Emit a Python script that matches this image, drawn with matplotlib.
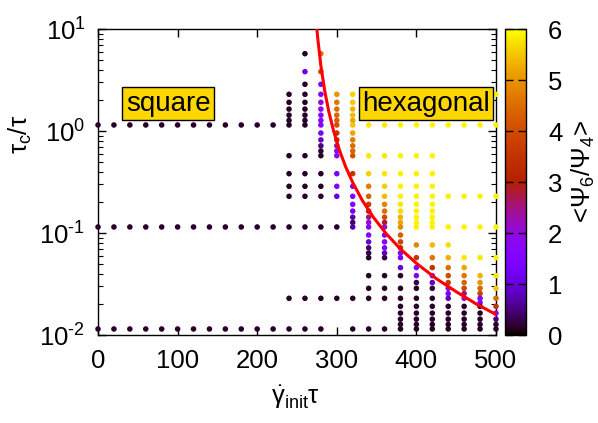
import matplotlib.pyplot as plt
import numpy as np
from matplotlib.ticker import FixedLocator, FixedFormatter

plt.rcParams['font.family'] = ['Liberation Sans', 'DejaVu Sans']
plt.rcParams['mathtext.fontset'] = 'custom'
plt.rcParams['mathtext.rm'] = 'Liberation Sans'
plt.rcParams['mathtext.it'] = 'Liberation Sans'
plt.rcParams['mathtext.bf'] = 'Liberation Sans:bold'

# shear rates 0..220: only three tau_c values, all square
gam_left = [0, 20, 40, 60, 80, 100, 120, 140, 160, 180, 200, 220]
tau_left = [1.146, 0.1146, 0.01146]
psi_left = [0.15, 0.15, 0.15]

# columns with more tau_c values
tau_240 = [2.29, 1.91, 1.64, 1.43, 1.27, 1.146, 0.573, 0.382, 0.287, 0.229, 0.1146, 0.0229, 0.01146]
psi_240 = [0.15] * 13

tau_260 = [5.73, 3.82, 2.87, 2.29, 1.91, 1.64, 1.43, 1.27, 1.146, 0.573, 0.382, 0.287, 0.229,
           0.1146, 0.0229, 0.01146]
psi_260 = [0.15, 1.1, 0.15, 0.15, 0.15, 0.15, 0.15, 0.15, 0.15, 0.15, 0.15, 0.15, 0.15,
           0.15, 0.15, 0.15]

tau_280 = [5.73, 3.82, 2.87, 2.29, 1.91, 1.64, 1.43, 1.27, 1.146, 0.955, 0.819, 0.716, 0.637,
           0.573, 0.382, 0.287, 0.229, 0.1146, 0.0229, 0.01146]
psi_280 = [4.6, 3.9, 1.6, 1.6, 1.9, 1.8, 1.7, 1.7, 1.6, 1.3, 0.9, 0.5, 0.2,
           0.15, 0.15, 0.15, 0.15, 0.15, 0.15, 0.15]

tau_300 = [2.29, 1.91, 1.64, 1.43, 1.27, 1.146, 0.955, 0.819, 0.716, 0.637, 0.573, 0.382,
           0.287, 0.229, 0.1146, 0.0229]
psi_300 = [5.0, 4.6, 4.5, 4.4, 4.3, 4.1, 3.5, 3.2, 2.5, 1.9, 1.7, 1.3,
           1.5, 1.0, 0.15, 0.15]

tau_320 = [2.29, 1.91, 1.64, 1.43, 1.27, 1.146, 0.955, 0.819, 0.716, 0.637, 0.573, 0.382,
           0.287, 0.229, 0.191, 0.164, 0.143, 0.127, 0.1146, 0.0229, 0.01146]
psi_320 = [5.6, 5.5, 5.3, 5.4, 5.2, 5.5, 5.2, 4.7, 4.5, 4.4, 4.1, 3.6,
           1.6, 1.5, 1.5, 1.3, 0.7, 0.4, 0.7, 0.15, 0.15]

tau_340 = [1.146, 0.573, 0.382, 0.287, 0.229, 0.191, 0.164, 0.143, 0.127, 0.1146, 0.0955,
           0.0819, 0.0716, 0.0637, 0.0573, 0.0382, 0.0287, 0.0229, 0.01146]
psi_340 = [5.8, 5.8, 5.6, 4.7, 4.3, 3.7, 3.0, 2.5, 2.0, 1.7, 1.5,
           1.0, 0.4, 0.3, 0.15, 0.15, 0.15, 0.15, 0.15]

tau_360 = [1.146, 0.573, 0.382, 0.287, 0.229, 0.191, 0.164, 0.143, 0.127, 0.1146, 0.0955,
           0.0819, 0.0716, 0.0637, 0.0573, 0.0382, 0.0287, 0.0229, 0.01146]
psi_360 = [5.8, 5.8, 5.8, 5.6, 5.4, 4.8, 4.5, 4.0, 2.8, 2.2, 1.6,
           1.5, 1.4, 0.8, 0.3, 0.15, 0.15, 0.15, 0.15]

tau_380 = [1.146, 0.573, 0.382, 0.287, 0.229, 0.191, 0.164, 0.143, 0.127, 0.1146, 0.0955,
           0.0819, 0.0716, 0.0637, 0.0573, 0.0458, 0.0382, 0.0287, 0.0229, 0.0191, 0.0164,
           0.0143, 0.0127, 0.01146]
psi_380 = [5.9, 5.9, 5.9, 5.9, 5.9, 5.8, 5.7, 5.3, 5.2, 4.9, 4.3,
           3.8, 3.4, 1.7, 1.5, 1.0, 0.15, 0.15, 0.15, 0.15, 0.15,
           0.15, 0.15, 0.15]

tau_400 = [1.146, 0.573, 0.382, 0.287, 0.229, 0.191, 0.164, 0.143, 0.127, 0.1146, 0.0764,
           0.0573, 0.0458, 0.0382, 0.0327, 0.0287, 0.0229, 0.0191, 0.0164, 0.0143, 0.0127,
           0.01146]
psi_400 = [5.9, 5.9, 5.9, 5.9, 5.9, 5.9, 5.9, 5.9, 5.9, 5.9, 4.8,
           3.6, 1.6, 1.5, 0.3, 0.15, 0.15, 0.15, 0.15, 0.15, 0.15,
           0.15]

tau_420 = [1.146, 0.573, 0.382, 0.287, 0.229, 0.191, 0.164, 0.143, 0.127, 0.1146, 0.0764,
           0.0573, 0.0458, 0.0382, 0.0327, 0.0287, 0.0229, 0.0191, 0.0164, 0.0143, 0.0127,
           0.01146]
psi_420 = [5.9, 5.9, 5.9, 5.9, 5.9, 5.9, 5.9, 5.9, 5.9, 5.9, 5.4,
           4.6, 3.5, 1.4, 0.8, 0.3, 0.15, 0.15, 0.15, 0.15, 0.15,
           0.15]

tau_440 = [1.146, 0.229, 0.1146, 0.0764, 0.0573, 0.0458, 0.0382, 0.0327, 0.0287, 0.0255,
           0.0229, 0.0191, 0.0164, 0.0143, 0.0127, 0.01146]
psi_440 = [5.9, 5.9, 5.9, 5.7, 5.3, 4.5, 4.0, 3.7, 2.2, 1.5,
           0.8, 0.15, 0.15, 0.15, 0.15, 0.15]

tau_460 = [1.146, 0.229, 0.1146, 0.0573, 0.0458, 0.0382, 0.0327, 0.0287, 0.0255, 0.0229,
           0.0191, 0.0164, 0.0143, 0.0127, 0.01146]
psi_460 = [5.9, 5.9, 5.9, 5.8, 5.2, 4.6, 4.4, 3.9, 2.5, 2.2,
           0.15, 0.15, 0.15, 0.15, 0.15]

tau_480 = [1.146, 0.229, 0.1146, 0.0573, 0.0382, 0.0327, 0.0287, 0.0255, 0.0229, 0.0208,
           0.0191, 0.0164, 0.0143, 0.0127, 0.01146]
psi_480 = [5.9, 5.9, 5.9, 5.8, 5.3, 5.0, 4.4, 3.8, 1.6, 1.5,
           0.15, 0.15, 0.15, 0.15, 0.15]

tau_500 = [2.29, 1.146, 0.229, 0.1146, 0.0573, 0.0382, 0.0287, 0.0229, 0.0191, 0.0164,
           0.0143, 0.0127, 0.01146]
psi_500 = [5.9, 5.9, 5.9, 5.9, 5.9, 5.8, 5.5, 4.5, 3.5, 1.8,
           0.5, 0.15, 0.15]

# red boundary line
curve_gam = [274, 276, 280, 285, 290, 296, 303, 311, 320, 332, 346, 362, 380, 400, 425, 450, 475, 500]
curve_tau = [12.3, 8.19, 4.36, 2.43, 1.545, 1.0, 0.660, 0.448, 0.313, 0.209, 0.1426, 0.0986,
             0.0697, 0.0505, 0.0357, 0.0266, 0.0202, 0.0159]

ytick_vals = [0.01, 0.1, 1, 10]
ytick_labels = ['10$^{\u2010 2}$', '10$^{\u2010 1}$', '10$^{0}$', '10$^{1}$']

columns = [(240, tau_240, psi_240), (260, tau_260, psi_260), (280, tau_280, psi_280),
           (300, tau_300, psi_300), (320, tau_320, psi_320), (340, tau_340, psi_340),
           (360, tau_360, psi_360), (380, tau_380, psi_380), (400, tau_400, psi_400),
           (420, tau_420, psi_420), (440, tau_440, psi_440), (460, tau_460, psi_460),
           (480, tau_480, psi_480), (500, tau_500, psi_500)]

gam, tau, psi = [], [], []
for g in gam_left:
    gam += [g] * len(tau_left)
    tau += tau_left
    psi += psi_left
for g, t, p in columns:
    gam += [g] * len(t)
    tau += t
    psi += p

fig = plt.figure(figsize=(5.98, 4.23), dpi=100)
ax = fig.add_axes([0.1639, 0.2080, 0.6655, 0.7234])
cax = fig.add_axes([0.8445, 0.2080, 0.0351, 0.7234])

sc = ax.scatter(gam, tau, c=psi, cmap='gnuplot', vmin=0, vmax=6, s=16,
                linewidths=0, clip_on=False, zorder=3)
ax.plot(curve_gam, curve_tau, color='#ff0000', lw=2.2, zorder=4)

fs = 18.5
ax.set_yscale('log')
ax.set_xlim(0, 500)
ax.set_ylim(0.01, 10)
ax.set_xticks([0, 100, 200, 300, 400, 500])
ax.yaxis.set_major_locator(FixedLocator(ytick_vals))
ax.yaxis.set_major_formatter(FixedFormatter(ytick_labels))
ax.tick_params(which='both', direction='in', top=True, right=True, labelsize=fs)
ax.tick_params(which='major', length=6, width=1)
ax.tick_params(which='minor', length=3.5, width=0.8)
ax.tick_params(axis='x', pad=10)
ax.tick_params(axis='y', pad=9)
for s in ax.spines.values():
    s.set_linewidth(1)

box = dict(boxstyle='square,pad=0.12', fc='#ffd700', ec='black', lw=1)
ax.text(88, 1.86, 'square', ha='center', va='center', fontsize=20, bbox=box, zorder=5)
ax.text(412, 1.86, 'hexagonal', ha='center', va='center', fontsize=20, bbox=box, zorder=5)

cb = fig.colorbar(sc, cax=cax)
cb.set_ticks([0, 1, 2, 3, 4, 5, 6])
cb.outline.set_linewidth(1)
cax.tick_params(direction='in', left=True, right=True, length=6, width=1, labelsize=fs, pad=16)

fig.text(295 / 598, 1 - 397 / 423, r'$\dot{\gamma}_{\mathrm{init}}\tau$', ha='center', va='center', fontsize=fs)
fig.text(20 / 598, 1 - 135 / 423, r'$\tau_{\mathrm{c}}/\tau$', ha='center', va='center',
         rotation=90, fontsize=fs)
fig.text(583 / 598, 1 - 172 / 423, r'<$\Psi_6/\Psi_4$>', ha='center', va='center',
         rotation=90, fontsize=fs)

fig.savefig('out.png', dpi=100)
